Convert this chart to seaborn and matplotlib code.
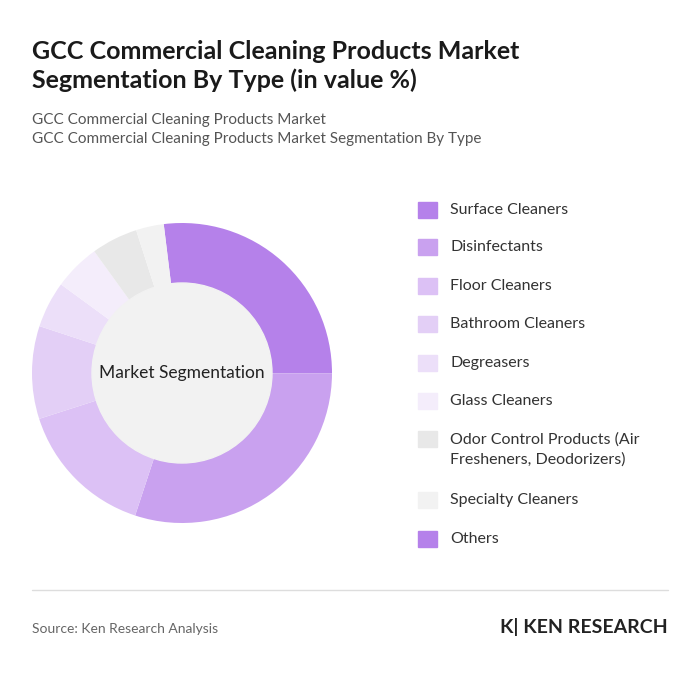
import matplotlib.pyplot as plt
import seaborn as sns
from matplotlib.patches import Circle

sns.set_style("white")
plt.rcParams['font.family'] = ['Lato', 'DejaVu Sans']

labels = ['Surface Cleaners', 'Disinfectants', 'Floor Cleaners', 'Bathroom Cleaners',
          'Degreasers', 'Glass Cleaners',
          'Odor Control Products (Air\nFresheners, Deodorizers)',
          'Specialty Cleaners', 'Others']
values = [27, 30, 15, 10, 5, 5, 5, 3, 0]
colors = ['#b581ea', '#c9a1ef', '#dcc1f5', '#e3cff6', '#ecdff9', '#f4edfb',
          '#e8e8e8', '#f2f2f2', '#b581ea']

fig = plt.figure(figsize=(7, 6.75), dpi=100)
fig.text(0.046, 1 - 92 / 675, 'GCC Commercial Cleaning Products Market\nSegmentation By Type (in value %)',
         fontsize=18, fontweight='bold', color='#1a1a1a', va='bottom', linespacing=1.3)
fig.text(0.046, 1 - 146 / 675, 'GCC Commercial Cleaning Products Market\nGCC Commercial Cleaning Products Market Segmentation By Type',
         fontsize=11, color='#555555', va='bottom', linespacing=1.45)

ax = fig.add_axes([32 / 700, 1 - 523 / 675, 300 / 700, 300 / 675])
ax.pie(values, colors=colors, startangle=97, counterclock=False, radius=1,
       wedgeprops=dict(width=1, edgecolor='white', linewidth=0))
ax.add_patch(Circle((0, 0), 0.6, color='#f2f2f2', zorder=3))
ax.text(0, 0, 'Market Segmentation', ha='center', va='center', fontsize=12.5, color='#222222', zorder=4)
ax.set_xlim(-1, 1)
ax.set_ylim(-1, 1)
ax.set_aspect('equal')
ax.axis('off')

ys = [210, 247, 286, 324, 363, 401, 439, 500, 539]
for lab, c, y in zip(labels, colors, ys):
    yf = 1 - y / 675
    fig.patches.append(plt.Rectangle((418 / 700, yf - 8 / 675), 19 / 700, 16 / 675,
                                     transform=fig.transFigure, color=c))
    fig.text(450 / 700, yf + (0 if '\n' not in lab else -11 / 675), lab,
             fontsize=11.5, color='#333333', va='center', linespacing=1.5)

fig.add_artist(plt.Line2D([32 / 700, 668 / 700], [1 - 590 / 675] * 2, color='#dddddd', lw=1))
fig.text(32 / 700, 1 - 629 / 675, 'Source: Ken Research Analysis', fontsize=10, color='#666666', va='center')
fig.text(668 / 700, 1 - 627 / 675, 'K| KEN RESEARCH', fontsize=14, fontweight='bold',
         color='#222222', va='center', ha='right')

fig.savefig('out.png', dpi=100, facecolor='white')
